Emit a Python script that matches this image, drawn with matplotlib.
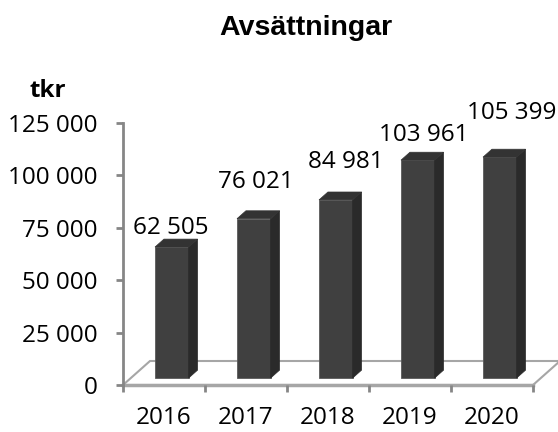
import numpy as np
import matplotlib.pyplot as plt
from matplotlib.patches import Polygon

years = ['2016', '2017', '2018', '2019', '2020']
values = [62505, 76021, 84981, 103961, 105399]
value_labels = ['62 505', '76 021', '84 981', '103 961', '105 399']
yticks = [0, 25000, 50000, 75000, 100000, 125000]
ytick_labels = ['0', '25 000', '50 000', '75 000', '100 000', '125 000']

# nudges (pixels) of the data labels from the top of each front face
label_nudge = [(-1, 19), (2, 37), (10, 38), (6, 25), (12, 44)]

W, H = 558, 432
fig = plt.figure(figsize=(W / 100, H / 100), dpi=100)
fig.patch.set_facecolor('white')
ax = fig.add_axes([123 / W, (H - 385) / H, (W - 123) / W, 262 / H])
ax.set_xlim(-0.5, -0.5 + (W - 123) / 82)
ax.set_ylim(0, 125000)

font = 'Open Sans'
fs = 17.5
grey = '#868686'

# fake 3d: full floor depth in data units, bars sit between z0 and z1
ddx, ddy = 27 / 82, 24 * 125000 / 262
z0, z1 = 0.29, 0.62
width = 0.41

x = np.arange(len(values))

# floor
floor = Polygon([(-0.5, 0), (4.5, 0), (4.5 + ddx, ddy), (-0.5 + ddx, ddy)],
                closed=True, facecolor='white', edgecolor='#a6a6a6', lw=1.5,
                zorder=1, clip_on=False)
ax.add_patch(floor)
ax.plot([-0.5, 4.5], [0, 0], color='#a6a6a6', lw=2.5, zorder=1, clip_on=False)

# bars
xl = x + z0 * ddx - width / 2
xr = xl + width
b = z0 * ddy
sx, sy = (z1 - z0) * ddx, (z1 - z0) * ddy
ax.bar(x + z0 * ddx, values, width=width, bottom=b, color='#404040',
       edgecolor='#5a5a5a', lw=0.6, zorder=3, clip_on=False)
for i, v in enumerate(values):
    side = Polygon([(xr[i], b), (xr[i], b + v), (xr[i] + sx, b + v + sy), (xr[i] + sx, b + sy)],
                   closed=True, facecolor='#2a2a2a', edgecolor='#2a2a2a', lw=0.5,
                   zorder=3, clip_on=False)
    top = Polygon([(xl[i], b + v), (xr[i], b + v), (xr[i] + sx, b + v + sy), (xl[i] + sx, b + v + sy)],
                  closed=True, facecolor='#333333', edgecolor='#333333', lw=0.5,
                  zorder=3, clip_on=False)
    ax.add_patch(side)
    ax.add_patch(top)
    ax.annotate(value_labels[i], (x[i] + z0 * ddx, b + v), xytext=label_nudge[i],
                textcoords='offset pixels', ha='center', va='center',
                family=font, fontsize=fs, color='black')

# axes
for s in ['top', 'right', 'bottom']:
    ax.spines[s].set_visible(False)
ax.spines['left'].set_color(grey)
ax.spines['left'].set_linewidth(2)
ax.spines['left'].set_bounds(0, 125000)
ax.set_yticks(yticks)
ax.set_yticklabels(ytick_labels, family=font, fontsize=fs)
ax.tick_params(axis='y', length=5, width=2, color=grey, pad=13.5)

ax.set_xticks(x)
ax.set_xticklabels(years, family=font, fontsize=fs)
ax.set_xticks(np.arange(-0.5, len(values)), minor=True)
ax.tick_params(axis='x', which='major', length=0, pad=15)
ax.tick_params(axis='x', which='minor', length=5, width=2, color=grey)

fig.text(306 / W, 1 - 28 / H, 'Avsättningar', family='Liberation Sans',
         fontweight='bold', fontsize=20.5, ha='center', va='center')
fig.text(48 / W, 1 - 91 / H, 'tkr', family=font, fontweight='bold',
         fontsize=fs, ha='center', va='center')

fig.savefig('out.png', dpi=100)
